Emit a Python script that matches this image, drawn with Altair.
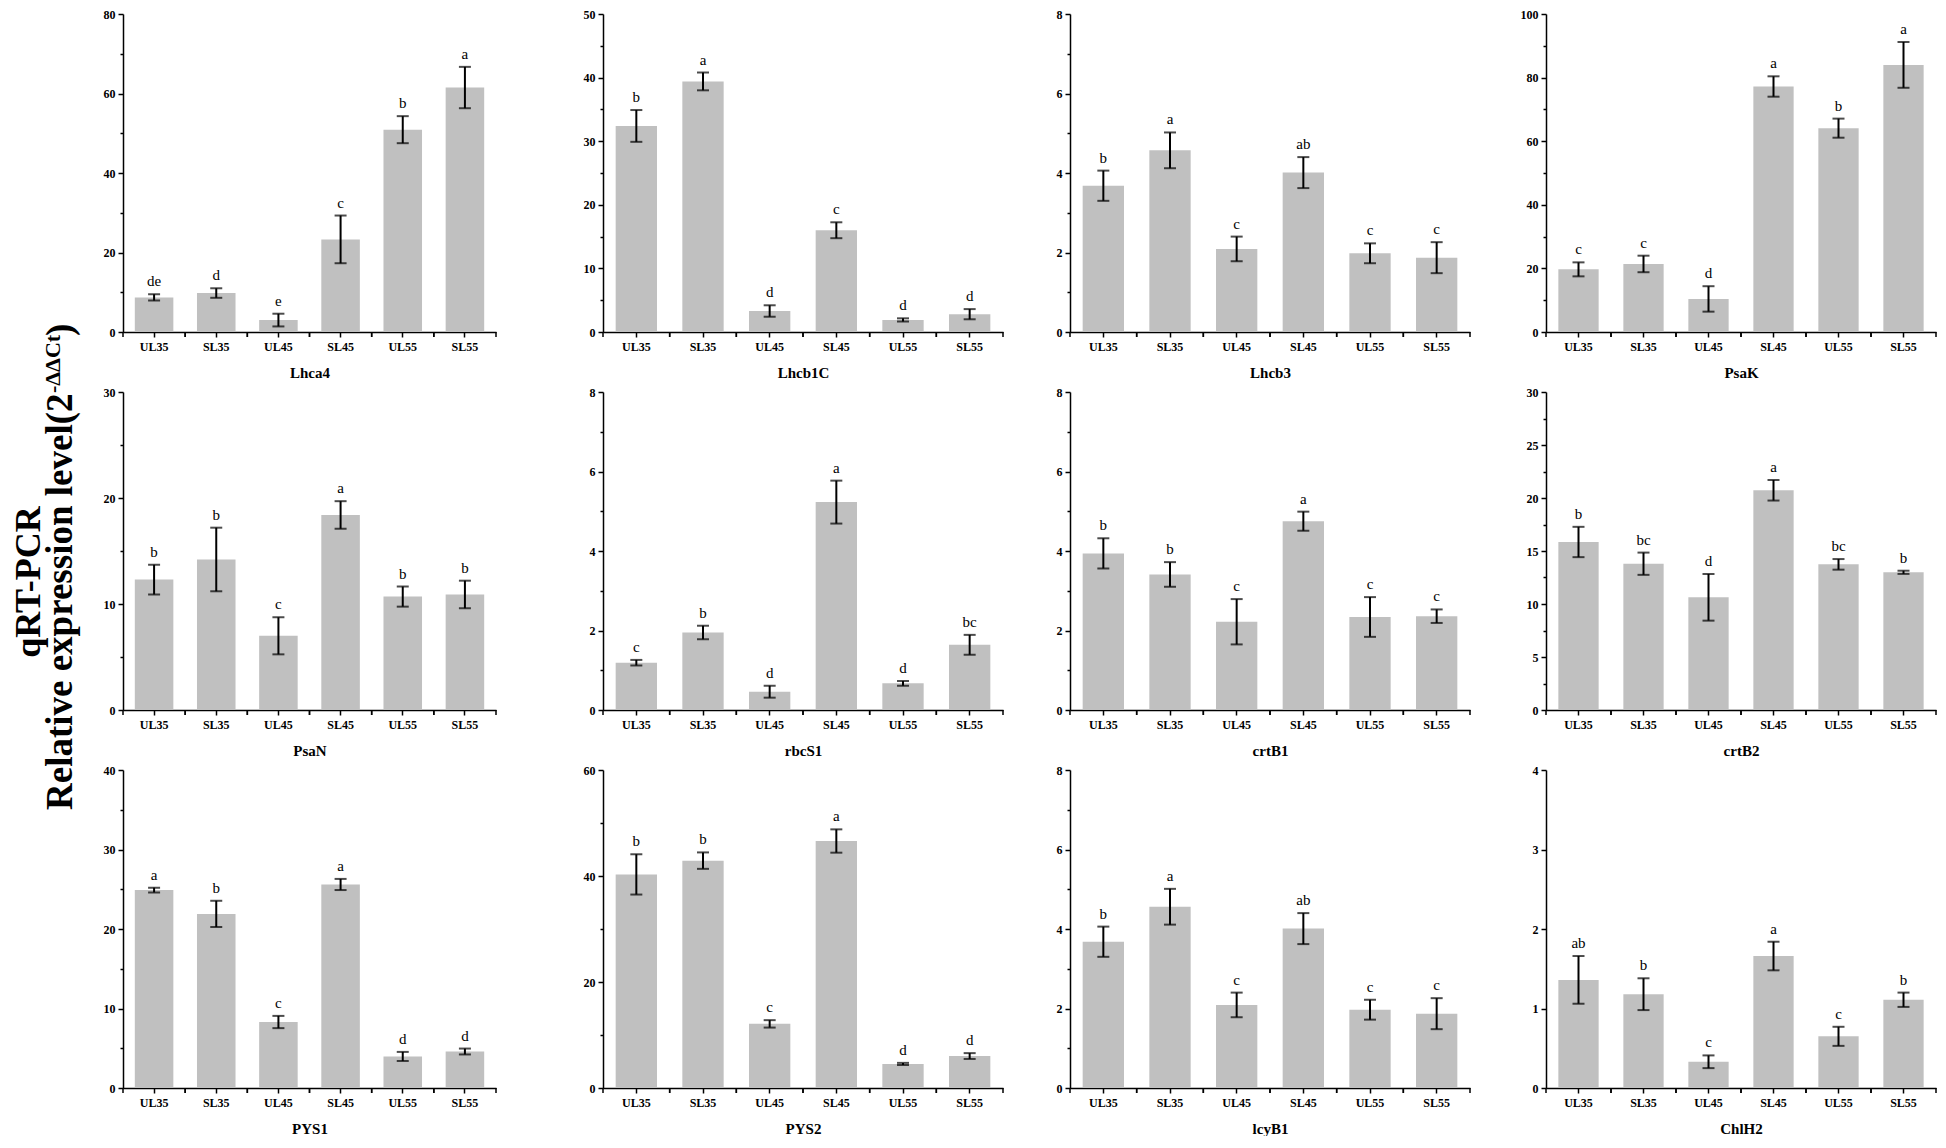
import altair as alt
import pandas as pd

groups = ["UL35", "SL35", "UL45", "SL45", "UL55", "SL55"]

# ---- data (mean, error, significance letters) ----
lhca4_mean = [8.7, 9.8, 3.0, 23.3, 50.9, 61.5]
lhca4_err = [0.8, 1.2, 1.6, 6.0, 3.4, 5.2]
lhca4_sig = ["de", "d", "e", "c", "b", "a"]

lhcb1c_mean = [32.4, 39.4, 3.3, 16.0, 1.9, 2.8]
lhcb1c_err = [2.5, 1.4, 0.9, 1.25, 0.25, 0.8]
lhcb1c_sig = ["b", "a", "d", "c", "d", "d"]

lhcb3_mean = [3.68, 4.57, 2.09, 4.01, 1.98, 1.87]
lhcb3_err = [0.38, 0.45, 0.31, 0.39, 0.25, 0.39]
lhcb3_sig = ["b", "a", "c", "ab", "c", "c"]

psak_mean = [19.7, 21.4, 10.4, 77.2, 64.1, 84.0]
psak_err = [2.2, 2.6, 4.0, 3.2, 3.0, 7.2]
psak_sig = ["c", "c", "d", "a", "b", "a"]

psan_mean = [12.3, 14.2, 7.0, 18.4, 10.7, 10.9]
psan_err = [1.4, 3.0, 1.75, 1.3, 0.95, 1.3]
psan_sig = ["b", "b", "c", "a", "b", "b"]

rbcs1_mean = [1.19, 1.95, 0.46, 5.23, 0.67, 1.64]
rbcs1_err = [0.07, 0.17, 0.15, 0.54, 0.06, 0.25]
rbcs1_sig = ["c", "b", "d", "a", "d", "bc"]

crtb1_mean = [3.94, 3.41, 2.22, 4.75, 2.34, 2.36]
crtb1_err = [0.38, 0.31, 0.57, 0.24, 0.5, 0.17]
crtb1_sig = ["b", "b", "c", "a", "c", "c"]

crtb2_mean = [15.85, 13.8, 10.63, 20.73, 13.74, 12.99]
crtb2_err = [1.43, 1.05, 2.2, 0.97, 0.5, 0.15]
crtb2_sig = ["b", "bc", "d", "a", "bc", "b"]

pys1_mean = [24.9, 21.9, 8.3, 25.6, 3.97, 4.59]
pys1_err = [0.3, 1.65, 0.77, 0.7, 0.57, 0.37]
pys1_sig = ["a", "b", "c", "a", "d", "d"]

pys2_mean = [40.3, 42.9, 12.1, 46.6, 4.54, 6.03]
pys2_err = [3.8, 1.55, 0.7, 2.2, 0.2, 0.55]
pys2_sig = ["b", "b", "c", "a", "d", "d"]

lcyb1_mean = [3.68, 4.56, 2.09, 4.01, 1.97, 1.87]
lcyb1_err = [0.38, 0.45, 0.31, 0.39, 0.25, 0.39]
lcyb1_sig = ["b", "a", "c", "ab", "c", "c"]

chlh2_mean = [1.36, 1.18, 0.33, 1.66, 0.65, 1.11]
chlh2_err = [0.30, 0.2, 0.08, 0.18, 0.12, 0.09]
chlh2_sig = ["ab", "b", "c", "a", "c", "b"]

# gene name, data, axis max, major step, minor step
panels = [
    [("Lhca4", lhca4_mean, lhca4_err, lhca4_sig, 80, 20, 10),
     ("Lhcb1C", lhcb1c_mean, lhcb1c_err, lhcb1c_sig, 50, 10, 5),
     ("Lhcb3", lhcb3_mean, lhcb3_err, lhcb3_sig, 8, 2, 1),
     ("PsaK", psak_mean, psak_err, psak_sig, 100, 20, 10)],
    [("PsaN", psan_mean, psan_err, psan_sig, 30, 10, 5),
     ("rbcS1", rbcs1_mean, rbcs1_err, rbcs1_sig, 8, 2, 1),
     ("crtB1", crtb1_mean, crtb1_err, crtb1_sig, 8, 2, 1),
     ("crtB2", crtb2_mean, crtb2_err, crtb2_sig, 30, 5, 2.5)],
    [("PYS1", pys1_mean, pys1_err, pys1_sig, 40, 10, 5),
     ("PYS2", pys2_mean, pys2_err, pys2_sig, 60, 20, 10),
     ("lcyB1", lcyb1_mean, lcyb1_err, lcyb1_sig, 8, 2, 1),
     ("ChlH2", chlh2_mean, chlh2_err, chlh2_sig, 4, 1, 0.5)],
]

FONT = "Liberation Serif"
H = 318
COL_W = [373, 400, 400, 390]
COL_EXT = [35, 96, 56, 65]
P_IN, P_OUT = 0.38, 0.19


def panel(name, mean, err, sig, ymax, major, minor, width, ext):
    df = pd.DataFrame({
        "group": groups,
        "mean": mean,
        "lo": [m - e for m, e in zip(mean, err)],
        "hi": [m + e for m, e in zip(mean, err)],
        "sig": sig,
    })
    n = int(round(ymax / minor))
    vals = [i * minor for i in range(n + 1)]
    xscale = alt.Scale(paddingInner=P_IN, paddingOuter=P_OUT)
    xaxis = alt.Axis(title=name, labelAngle=0, tickSize=5, labelPadding=4,
                     titlePadding=13)
    x = alt.X("group:N", sort=groups, scale=xscale, axis=xaxis)
    yaxis = alt.Axis(
        title=None, values=vals, format="d",
        labelExpr=f"datum.value % {major} == 0 ? datum.label : ''",
        tickSize={"condition": {"test": f"datum.value % {major} == 0", "value": 5}, "value": 3},
        labelPadding=3, minExtent=ext, maxExtent=ext,
    )
    ysc = alt.Scale(domain=[0, ymax], nice=False, zero=True)
    base = alt.Chart(df)
    bars = base.mark_bar(color="#c0c0c0").encode(
        x=x, y=alt.Y("mean:Q", scale=ysc, axis=yaxis))
    rule = base.mark_rule(color="black", strokeWidth=2).encode(
        x=x, y=alt.Y("lo:Q", scale=ysc, axis=yaxis), y2="hi:Q")
    cap_lo = base.mark_tick(color="black", size=12, thickness=2).encode(
        x=x, y=alt.Y("lo:Q", scale=ysc, axis=yaxis))
    cap_hi = base.mark_tick(color="black", size=12, thickness=2).encode(
        x=x, y=alt.Y("hi:Q", scale=ysc, axis=yaxis))
    txt = base.mark_text(font=FONT, fontSize=15, baseline="bottom", dy=-5,
                         color="black").encode(
        x=x, y=alt.Y("hi:Q", scale=ysc, axis=yaxis), text="sig:N")
    # small axis ticks at the category boundaries
    gap = P_OUT * width / len(groups)
    edge_l = base.mark_rule(color="black", strokeWidth=1.5, xOffset=-gap).encode(
        x=alt.X("group:N", sort=groups, scale=xscale, bandPosition=0, axis=xaxis),
        y=alt.value(H), y2=alt.value(H + 5))
    edge_r = base.mark_rule(color="black", strokeWidth=1.5, xOffset=gap).encode(
        x=alt.X("group:N", sort=groups, scale=xscale, bandPosition=1, axis=xaxis),
        y=alt.value(H), y2=alt.value(H + 5))
    return alt.layer(bars, rule, cap_lo, cap_hi, txt, edge_l, edge_r).properties(
        width=width, height=H)


rows = []
for r in panels:
    cells = [panel(*p, COL_W[i], COL_EXT[i]) for i, p in enumerate(r)]
    rows.append(alt.hconcat(*cells, spacing=10))
grid = alt.vconcat(*rows, spacing=6)

one = alt.Chart(pd.DataFrame({"k": [0]}))
t1 = one.mark_text(font=FONT, fontWeight="bold", fontSize=36, angle=270,
                   align="center", baseline="alphabetic", color="black").encode(
    x=alt.value(32), y=alt.value(568), text=alt.value("qRT-PCR"))
t2 = one.mark_text(font=FONT, fontWeight="bold", fontSize=37, angle=270,
                   align="left", baseline="alphabetic", color="black").encode(
    x=alt.value(64), y=alt.value(796), text=alt.value("Relative expression level(2"))
t3 = one.mark_text(font=FONT, fontWeight="bold", fontSize=22, angle=270,
                   align="left", baseline="alphabetic", color="black").encode(
    x=alt.value(52), y=alt.value(379), text=alt.value("-ΔΔCt"))
t4 = one.mark_text(font=FONT, fontWeight="bold", fontSize=37, angle=270,
                   align="left", baseline="alphabetic", color="black").encode(
    x=alt.value(64), y=alt.value(322), text=alt.value(")"))
label = alt.layer(t1, t2, t3, t4).properties(width=80, height=1100)

chart = alt.hconcat(label, grid, spacing=0).properties(padding=0).configure_view(
    stroke=None
).configure_axis(
    labelFont=FONT, labelFontWeight="bold", labelFontSize=12, labelColor="black",
    titleFont=FONT, titleFontWeight="bold", titleFontSize=15, titleColor="black",
    domainColor="black", domainWidth=1.5, tickColor="black", tickWidth=1.5,
    grid=False,
)

chart.save("out.html", embed_options={"renderer": "svg", "actions": False})
